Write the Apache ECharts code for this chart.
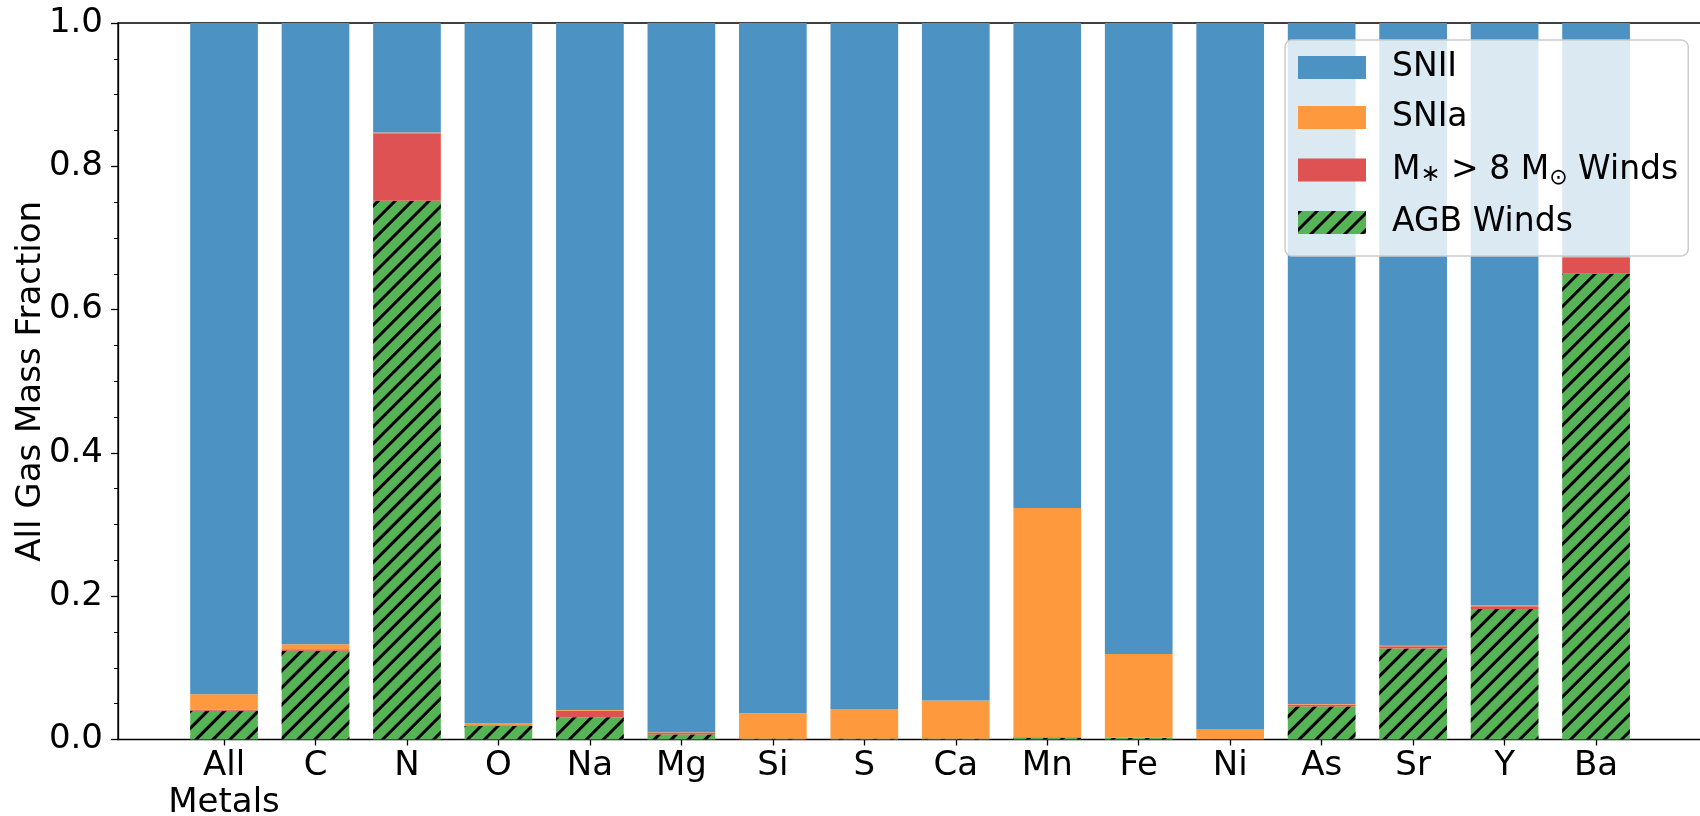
<!DOCTYPE html>
<html>
<head>
<meta charset="utf-8">
<script src="https://cdn.jsdelivr.net/npm/echarts@6/dist/echarts.min.js"></script>
<style>
  html, body { margin: 0; padding: 0; background: #fff; }
  #chart { width: 1700px; height: 816px; }
</style>
</head>
<body>
<div id="chart"></div>
<script>
// Element categories along the x axis
const categories = ['All\nMetals', 'C', 'N', 'O', 'Na', 'Mg', 'Si', 'S', 'Ca', 'Mn', 'Fe', 'Ni', 'As', 'Sr', 'Y', 'Ba'];

// Gas mass fraction contributed by each enrichment source
const agbWinds    = [0.040, 0.124, 0.752, 0.019, 0.031, 0.007, 0.001, 0.001, 0.001, 0.002, 0.002, 0.0005, 0.046, 0.127, 0.182, 0.650];
const massiveWinds= [0.002, 0.002, 0.094, 0.001, 0.009, 0.002, 0.0005, 0.0005, 0.0005, 0.001, 0.0005, 0.0003, 0.003, 0.003, 0.004, 0.023];
const snIa        = [0.021, 0.007, 0.001, 0.003, 0.001, 0.001, 0.035, 0.041, 0.053, 0.320, 0.117, 0.014, 0.0005, 0.001, 0.001, 0.001];
const snII        = [0.937, 0.867, 0.153, 0.977, 0.959, 0.990, 0.9635, 0.9575, 0.9455, 0.677, 0.8805, 0.9852, 0.9505, 0.869, 0.813, 0.326];

// y-axis tick values
const yTicks = [0.0, 0.2, 0.4, 0.6, 0.8, 1.0];

const FONT = 'DejaVu Sans';
const MSTAR = 'M∗ > 8 M⊙ Winds';

const chart = echarts.init(document.getElementById('chart'), null, { renderer: 'canvas' });

const barBase = {
  type: 'bar',
  xAxisIndex: 1,
  yAxisIndex: 1,
  stack: 'total',
  barWidth: 67.7,
  emphasis: { disabled: true }
};

chart.setOption({
  animation: false,
  backgroundColor: '#ffffff',
  textStyle: { fontFamily: FONT },
  grid: [
    // frame with the value axis
    { left: 118, top: 23, right: -10, bottom: 76.5, outerBoundsMode: 'none', containLabel: false,
      show: true, borderColor: '#000', borderWidth: 1.3, backgroundColor: 'transparent' },
    // category bands holding the bars
    { left: 178.3, right: 58.2, top: 23, bottom: 76.5, outerBoundsMode: 'none', containLabel: false }
  ],
  legend: {
    orient: 'vertical',
    left: 1285,
    top: 40,
    data: ['SNII', 'SNIa', MSTAR, 'AGB Winds'],
    icon: 'rect',
    itemWidth: 68,
    itemHeight: 23,
    itemGap: 17,
    padding: [11, 10, 17, 13],
    backgroundColor: 'rgba(255,255,255,0.8)',
    borderColor: '#cccccc',
    borderWidth: 1.5,
    borderRadius: 7,
    selectedMode: false,
    formatter: function (name) {
      if (name === MSTAR) {
        return '{n|M}{s|∗}{n| > 8 M}{o|⊙}{n| Winds}';
      }
      return '{n|' + name + '}';
    },
    textStyle: {
      fontFamily: FONT,
      fontSize: 33,
      color: '#000',
      lineHeight: 32,
      padding: [0, 0, 0, 21],
      rich: {
        n: { fontFamily: FONT, fontSize: 33, color: '#000', lineHeight: 32 },
        s: { fontFamily: FONT, fontSize: 24, color: '#000', lineHeight: 32, padding: [10, 0, 0, 0] },
        o: { fontFamily: FONT, fontSize: 22, color: '#000', lineHeight: 32, padding: [16, 0, 0, 0] }
      }
    }
  },
  xAxis: [
    { gridIndex: 0, type: 'value', min: 0, max: 1, show: false },
    {
      gridIndex: 1,
      type: 'category',
      data: categories,
      axisLine: { show: false },
      axisTick: { show: true, alignWithLabel: true, length: 6, inside: false, lineStyle: { color: '#000', width: 1.3 } },
      axisLabel: { interval: 0, fontFamily: FONT, fontSize: 34, color: '#000', margin: 8, lineHeight: 37 },
      splitLine: { show: false }
    }
  ],
  yAxis: [
    {
      gridIndex: 0,
      type: 'value',
      min: 0,
      max: 1,
      interval: 0.2,
      name: 'All Gas Mass Fraction',
      nameLocation: 'middle',
      nameRotate: 90,
      nameGap: 70,
      nameMoveOverlap: false,
      nameTextStyle: { fontFamily: FONT, fontSize: 34, color: '#000' },
      axisLine: { show: true, lineStyle: { color: '#000', width: 1.3 } },
      axisTick: { show: true, inside: false, length: 7, lineStyle: { color: '#000', width: 1.3 } },
      minorTick: { show: true, splitNumber: 4, length: 4, lineStyle: { color: '#000', width: 1 } },
      splitLine: { show: false },
      minorSplitLine: { show: false },
      axisLabel: {
        fontFamily: FONT, fontSize: 34, color: '#000', margin: 15,
        customValues: yTicks,
        formatter: function (v) { return v.toFixed(1); }
      }
    },
    { gridIndex: 1, type: 'value', min: 0, max: 1, show: false }
  ],
  series: [
    Object.assign({}, barBase, {
      name: 'AGB Winds',
      data: agbWinds,
      itemStyle: {
        color: '#56b356',
        decal: {
          symbol: 'rect',
          symbolSize: 1,
          dashArrayX: [1, 0],
          dashArrayY: [3, 9],
          rotation: -Math.PI / 4,
          color: '#000000'
        }
      }
    }),
    Object.assign({}, barBase, { name: MSTAR, data: massiveWinds, itemStyle: { color: '#de5253' } }),
    Object.assign({}, barBase, { name: 'SNIa', data: snIa, itemStyle: { color: '#ff993e' } }),
    Object.assign({}, barBase, { name: 'SNII', data: snII, itemStyle: { color: '#4c92c3' } })
  ]
});
</script>
</body>
</html>
